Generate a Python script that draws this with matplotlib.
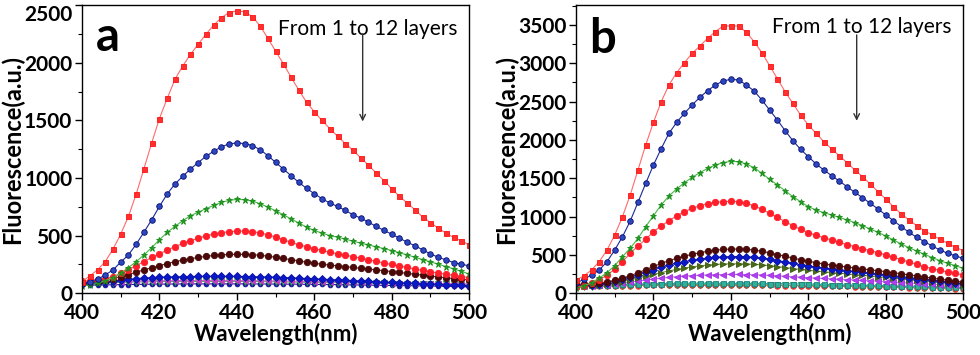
import numpy as np
import matplotlib
matplotlib.use("Agg")
import matplotlib.pyplot as plt
from matplotlib.ticker import MultipleLocator

plt.rcParams['font.family'] = ['Lato', 'DejaVu Sans']

# wavelength axis (nm), one point every 2 nm
wl = np.arange(400, 501, 2)

# panel a, 1 -> 12 layers
a_red_sq = [101, 151, 203, 275, 383, 513, 667, 861, 1081, 1304, 1516, 1690, 1855, 1971, 2072, 2159, 2246, 2325, 2391, 2435,
            2449, 2441, 2400, 2319, 2212, 2101, 1991, 1875, 1762, 1658, 1574, 1499, 1429, 1362, 1299, 1241, 1174, 1110, 1043, 977,
            907, 841, 783, 725, 661, 614, 565, 522, 484, 455, 420]
a_blue_ci = [81, 101, 122, 159, 203, 270, 333, 426, 530, 638, 754, 861, 948, 1014, 1078, 1133, 1188, 1232, 1270, 1296,
             1304, 1299, 1281, 1246, 1194, 1136, 1078, 1020, 962, 910, 864, 820, 783, 754, 719, 681, 652, 617, 580, 545,
             513, 478, 443, 412, 377, 342, 313, 290, 267, 252, 238]
a_green_st = [64, 72, 87, 107, 136, 174, 223, 275, 333, 397, 464, 528, 580, 629, 672, 704, 733, 762, 788, 806,
              814, 812, 800, 777, 748, 716, 681, 646, 609, 574, 545, 522, 501, 487, 470, 452, 435, 420, 403, 388,
              371, 352, 333, 313, 293, 273, 253, 232, 212, 190, 168]
a_red_ci = [105, 110, 118, 128, 145, 172, 205, 240, 275, 312, 342, 375, 405, 432, 455, 478, 498, 514, 526, 534,
            539, 539, 534, 524, 508, 488, 465, 442, 421, 405, 388, 372, 357, 343, 330, 318, 304, 290, 277, 262,
            250, 238, 224, 210, 198, 188, 175, 165, 155, 145, 136]
a_maroon = [95, 100, 105, 115, 128, 145, 163, 183, 203, 222, 240, 258, 274, 288, 300, 311, 320, 328, 333, 337,
            338, 338, 335, 330, 322, 313, 302, 292, 281, 270, 260, 252, 245, 238, 231, 224, 217, 210, 203, 196,
            188, 181, 173, 165, 157, 150, 142, 135, 128, 122, 116]
a_blue_di = [85, 88, 93, 100, 107, 114, 121, 127, 132, 136, 139, 141, 143, 144, 145, 146, 146, 146, 146, 146,
             146, 145, 144, 143, 141, 139, 137, 134, 131, 128, 125, 122, 119, 116, 113, 110, 107, 104, 101, 98,
             95, 92, 89, 86, 83, 80, 77, 74, 71, 68, 65]
a_magenta = [92, 94, 96, 98, 100, 102, 104, 106, 107, 108, 109, 110, 110, 111, 111, 111, 111, 111, 111, 111,
             111, 110, 110, 109, 108, 107, 106, 105, 104, 103, 102, 101, 100, 99, 98, 97, 96, 95, 94, 93,
             92, 91, 90, 89, 88, 87, 86, 85, 84, 83, 82]
a_green_tr = [80, 82, 85, 88, 91, 94, 96, 98, 99, 100, 101, 102, 102, 103, 103, 103, 103, 103, 103, 103,
              103, 102, 102, 101, 101, 100, 99, 98, 97, 96, 95, 94, 93, 92, 91, 90, 89, 88, 87, 86,
              85, 84, 83, 82, 81, 80, 79, 78, 77, 76, 75]
a_navy = [70, 71, 72, 73, 74, 75, 76, 77, 78, 79, 80, 80, 81, 81, 82, 82, 82, 82, 82, 82,
          82, 82, 81, 81, 81, 80, 80, 79, 79, 78, 78, 77, 76, 75, 74, 73, 72, 71, 70, 69,
          68, 67, 66, 65, 64, 63, 62, 61, 60, 59, 58]

# panel b, 1 -> 12 layers
b_red_sq = [174, 226, 304, 413, 565, 761, 1000, 1283, 1609, 1935, 2230, 2500, 2717, 2878, 3009, 3130, 3226, 3326, 3413, 3487,
            3487, 3487, 3404, 3283, 3139, 2970, 2800, 2630, 2478, 2326, 2196, 2087, 1978, 1883, 1796, 1704, 1609, 1522, 1426, 1326,
            1230, 1130, 1035, 957, 883, 817, 761, 704, 652, 600, 557]
b_blue_ci = [130, 183, 239, 304, 413, 565, 739, 943, 1187, 1435, 1674, 1887, 2087, 2230, 2348, 2457, 2557, 2643, 2717, 2770,
             2791, 2783, 2717, 2639, 2522, 2391, 2261, 2122, 1991, 1878, 1783, 1687, 1609, 1535, 1465, 1391, 1317, 1248, 1174, 1100,
             1022, 948, 870, 796, 730, 674, 617, 565, 522, 487, 457]
b_green_st = [65, 96, 139, 196, 270, 361, 478, 587, 717, 870, 1013, 1152, 1270, 1361, 1443, 1513, 1574, 1630, 1674, 1704,
              1722, 1717, 1687, 1639, 1565, 1487, 1413, 1339, 1261, 1196, 1130, 1087, 1052, 1022, 991, 957, 922, 883, 839, 796,
              748, 696, 643, 596, 552, 509, 465, 426, 391, 361, 326]
b_red_ci = [78, 100, 130, 174, 239, 313, 413, 522, 617, 704, 804, 878, 948, 1009, 1065, 1109, 1143, 1170, 1187, 1196,
            1200, 1196, 1174, 1143, 1096, 1043, 991, 935, 883, 835, 791, 757, 726, 696, 665, 635, 609, 583, 557, 530,
            500, 470, 439, 409, 378, 348, 322, 300, 278, 261, 239]
b_maroon = [110, 115, 122, 132, 148, 170, 197, 230, 268, 308, 350, 390, 425, 458, 485, 508, 530, 548, 562, 572,
            577, 577, 573, 563, 548, 528, 506, 483, 460, 438, 418, 400, 383, 368, 355, 342, 330, 318, 306, 294,
            282, 268, 254, 240, 226, 212, 198, 185, 172, 160, 148]
b_blue_di = [100, 105, 112, 122, 137, 157, 182, 210, 242, 275, 308, 340, 368, 393, 413, 430, 445, 458, 468, 475,
             479, 480, 477, 470, 458, 443, 426, 408, 390, 372, 356, 342, 330, 318, 307, 296, 285, 274, 263, 252,
             241, 229, 217, 205, 193, 181, 170, 159, 148, 138, 128]
b_olive = [95, 98, 103, 110, 120, 135, 153, 174, 198, 222, 246, 270, 292, 312, 330, 345, 358, 369, 377, 382,
           385, 385, 383, 378, 370, 360, 348, 336, 323, 311, 300, 290, 280, 271, 262, 253, 244, 235, 226, 217,
           207, 197, 187, 177, 167, 157, 148, 139, 130, 122, 114]
b_purple = [90, 93, 97, 103, 111, 121, 133, 146, 160, 173, 186, 198, 208, 217, 225, 231, 236, 240, 243, 245,
            246, 246, 245, 243, 239, 234, 228, 222, 216, 210, 204, 199, 194, 189, 184, 179, 174, 169, 164, 158,
            152, 146, 140, 134, 128, 122, 117, 112, 107, 102, 97]
b_teal = [100, 102, 105, 108, 111, 114, 117, 120, 122, 124, 126, 127, 128, 129, 130, 130, 131, 131, 131, 131,
          131, 130, 130, 129, 128, 127, 126, 125, 124, 122, 120, 118, 116, 114, 112, 110, 108, 106, 104, 102,
          100, 98, 96, 94, 92, 90, 88, 86, 84, 82, 80]
b_green_tr = [80, 83, 86, 89, 92, 95, 98, 100, 102, 104, 106, 107, 108, 109, 110, 110, 111, 111, 111, 111,
              111, 110, 110, 109, 108, 107, 106, 105, 104, 103, 102, 100, 98, 96, 94, 92, 90, 88, 86, 84,
              82, 80, 78, 76, 74, 72, 70, 68, 66, 64, 62]
b_red_low = [90, 92, 94, 96, 97, 98, 99, 100, 101, 102, 102, 103, 103, 103, 104, 104, 104, 104, 104, 104,
             104, 104, 103, 103, 102, 102, 101, 100, 99, 98, 97, 96, 95, 94, 92, 90, 88, 86, 84, 82,
             80, 78, 76, 74, 72, 70, 68, 66, 64, 62, 60]
b_navy = [120, 118, 116, 114, 113, 112, 111, 110, 110, 110, 110, 110, 110, 110, 110, 110, 110, 110, 110, 110,
          110, 109, 108, 107, 106, 105, 104, 103, 102, 101, 100, 99, 98, 97, 96, 95, 94, 93, 92, 90,
          88, 86, 84, 82, 80, 78, 76, 74, 72, 70, 68]

# styles: (marker, line colour, face colour, edge colour, size)
st_red_sq = ('s', '#ff6a6a', '#ff3030', '#ff1010', 3.6)
st_blue_ci = ('o', '#1a2a98', '#2c48c0', '#0a0a70', 4.0)
st_green_st = ('*', '#44bb44', '#22a022', '#1a8a1a', 5.0)
st_red_ci = ('o', '#ff5a5a', '#ff1e2a', '#ff1e2a', 4.6)
st_maroon = ('o', '#6a2a2a', '#4a0808', '#4a0808', 4.6)
st_blue_di = ('D', '#2030c0', '#0a18c8', '#0a10a0', 3.6)
st_olive = ('>', '#708a40', '#4a6a18', '#3a5a10', 4.6)
st_purple = ('<', '#c070f0', '#b040f0', '#a030e0', 4.6)
st_magenta = ('<', '#d060d0', '#c040c0', '#c040c0', 3.6)
st_teal = ('s', '#30a0a0', '#30b098', '#208080', 3.6)
st_green_tr = ('v', '#40b060', '#3cc060', '#209040', 3.8)
st_red_low = ('o', '#ff6060', '#ff2a2a', '#ff2a2a', 4.0)
st_navy = ('o', '#1a1aa0', '#1a1ab0', '#10108a', 3.4)

a_series = [(a_navy, st_navy), (a_green_tr, st_green_tr), (a_magenta, st_magenta), (a_blue_di, st_blue_di),
            (a_maroon, st_maroon), (a_red_ci, st_red_ci), (a_green_st, st_green_st),
            (a_blue_ci, st_blue_ci), (a_red_sq, st_red_sq)]
b_series = [(b_navy, st_navy), (b_red_low, st_red_low), (b_green_tr, st_green_tr), (b_teal, st_teal),
            (b_purple, st_purple), (b_olive, st_olive), (b_blue_di, st_blue_di), (b_maroon, st_maroon),
            (b_red_ci, st_red_ci), (b_green_st, st_green_st), (b_blue_ci, st_blue_ci), (b_red_sq, st_red_sq)]


def draw_panel(ax, series, ymax, ytop, letter, arrow_y, text_y):
    for vals, (mk, lc, fc, ec, ms) in series:
        ax.plot(wl, vals, '-', color=lc, lw=0.8, marker=mk, mfc=fc, mec=ec, ms=ms, mew=0.6)
    ax.set_xlim(400, 500)
    ax.set_ylim(0, ytop)
    ax.xaxis.set_major_locator(MultipleLocator(20))
    ax.xaxis.set_minor_locator(MultipleLocator(10))
    ax.set_yticks(np.arange(0, ymax + 1, 500))
    ax.yaxis.set_minor_locator(MultipleLocator(250))
    ax.tick_params(which='major', direction='out', length=5, width=1.0, labelsize=15, pad=2)
    ax.tick_params(which='minor', direction='out', length=3, width=0.8)
    for lab in ax.get_xticklabels() + ax.get_yticklabels():
        lab.set_fontweight('bold')
    if ymax == ytop:
        ax.get_yticklabels()[-1].set_va('top')
    for sp in ax.spines.values():
        sp.set_linewidth(1.0)
    ax.set_xlabel('Wavelength(nm)', fontsize=16, fontweight='bold', labelpad=0)
    ax.set_ylabel('Fluorescence(a.u.)', fontsize=17, fontweight='bold', labelpad=0)
    ax.text(403.5, text_y[0], letter, fontsize=34, fontweight='bold', va='baseline')
    ax.text(450.5, text_y[1], 'From 1 to 12 layers', fontsize=15, va='baseline')
    ax.annotate('', xy=(472.5, arrow_y[1]), xytext=(472.5, arrow_y[0]),
                arrowprops=dict(arrowstyle='->', color='#333333', lw=1.0, shrinkA=0, shrinkB=0))


fig = plt.figure(figsize=(9.8, 3.55), dpi=100)
ax_a = fig.add_axes([0.0837, 0.1738, 0.395, 0.812])
ax_b = fig.add_axes([0.5878, 0.1738, 0.395, 0.812])

draw_panel(ax_a, a_series, 2500, 2500, 'a', (2250, 1490), (2100, 2240))
draw_panel(ax_b, b_series, 3500, 3760, 'b', (3370, 2250), (3140, 3400))

fig.savefig('out.png', dpi=100)
